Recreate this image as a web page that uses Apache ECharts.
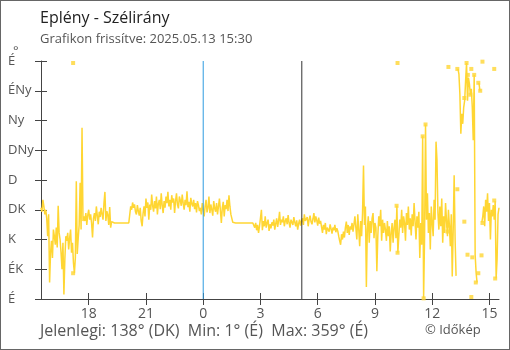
<!DOCTYPE html>
<html>
<head>
<meta charset="utf-8">
<script src="https://cdn.jsdelivr.net/npm/echarts@6/dist/echarts.min.js"></script>
<style>
html,body{margin:0;padding:0;background:#fff;}
#c{width:510px;height:350px;box-sizing:border-box;border:1px solid #666;}
</style>
</head>
<body>
<div id="c"></div>
<script>
// ---- data ----
const titleText = 'Eplény - Szélirány';
const subtitleText = 'Grafikon frissítve: 2025.05.13 15:30';
const creditText = '© Időkép';
const stepMinutes = 3;            // sample spacing, minutes from 15:30
const totalMinutes = 1440;        // 15:30 -> 15:30 next day
const xTickHours = [18, 21, 0, 3, 6, 9, 12, 15];
const xTickLabels = ['18', '21', '0', '3', '6', '9', '12', '15'];
const yTickLabels = ['É', 'ÉK', 'K', 'DK', 'D', 'DNy', 'Ny', 'ÉNy', 'É'];
const midnightMinute = 510;       // 00:00
const sunriseMinute = 820;        // ~05:10
const currentDir = 138, currentName = 'DK';
const minDir = 1, minName = 'É';
const maxDir = 359, maxName = 'É';

// wind direction (degrees), one value every 3 minutes
const windDir = [
138,132,150,140,128,135,
122,95,128,25,70,88,62,105,
95,82,108,78,141,100,90,
70,45,85,7,60,95,
88,100,75,92,105,70,85,
55,39,
62,178,68,92,112,176,105,259,118,
125,118,130,112,127,135,120,128,115,93,
122,130,118,140,126,113,132,124,138,128,
120,145,162,118,133,127,
112,139,108,117,114,
115,115,115,115,115,115,115,115,115,115,115,115,115,115,115,115,115,115,
140,135,146,138,143,132,
128,142,133,126,138,
118,110,130,
140,125,152,138,146,120,143,135,158,141,
132,148,137,155,128,144,150,136,160,142,130,
148,138,155,145,162,140,150,135,157,146,
152,130,148,160,143,137,155,149,141,158,
145,135,150,142,163,139,147,132,153,144,
140,150,136,145,131,148,
142,133,138,128,145,136,125,140,150,131,
138,155,130,143,135,126,148,137,132,145,
128,140,152,134,115,138,147,125,142,136,
150,133,157,140,128,
122,116,115,
115,115,115,115,115,115,115,115,115,117,115,115,115,115,115,115,115,115,115,115,
118,108,115,104,112,100,110,
112,135,104,118,110,125,108,115,120,103,113,107,116,111,120,105,
114,122,109,118,132,112,120,116,125,110,
118,122,113,127,115,108,120,117,112,124,
116,110,119,105,114,120,111,118,
122,112,128,118,115,124,110,120,126,117,
113,121,130,116,125,119,111,123,114,118,109,
100,112,105,115,98,108,110,102,113,106,
99,108,104,112,101,107,103,
95,88,82,98,90,102,93,
108,117,100,112,97,110,105,115,102,113,125,
122,90,128,105,80,118,95,130,202,112,
140,18,105,125,85,118,
100,122,130,92,115,108,42,
96,125,110,135,88,120,100,115,
105,88,118,95,110,72,100,115,85,108,120,92,
141,70,
95,120,108,135,100,125,115,88,130,112,
140,105,122,96,128,110,145,118,90,125,
108,132,62,115,
82,246,1,95,264,120,
160,100,130,75,140,115,
95,150,120,238,210,130,105,
140,110,152,85,125,100,145,118,95,135,
111,80,128,34,105,187,90,35,
null,
348,340,310,250,280,265,290,300,330,357,300,335,325,309,318,290,240,339,67,40,25,
null,
327,315,
null,
116,125,140,110,150,132,160,118,145,90,135,125,142,120,148,31,60,128,138
];

// isolated readings drawn as small squares (minute from 15:30, degrees)
const dotMinutes = [101,101,1118,1121,1121,1200,1203,1209,1278,1280,1281,1309,1309,1331,1331,1338,1341,1342,1350,1353,1353,1356,1362,1367,1375,1375,1381,1385,1388,1388,1425,1425,1428];
const dotDirs    = [357,39,141,357,70,246,1,264,102,111,351,166,348,304,117,357,67,339,309,348,3,63,339,25,327,39,315,66,359,115,348,149,31];

// ---- chart ----
const lineData = windDir.map((v, i) => [i * stepMinutes, v]);
const dotData = dotMinutes.map((m, i) => [m, dotDirs[i]]);
const xTickValues = xTickHours.map(h => ((h - 15.5 + 24) % 24) * 60);
const fmtX = v => { const k = xTickValues.indexOf(v); return k >= 0 ? xTickLabels[k] : ''; };
const fmtY = v => yTickLabels[Math.round(v / 45)] || '';

const FONT = '"Open Sans", sans-serif';
const AX = '#444';
const LBL = '#555';
const YEL = '#ffd633';

const chart = echarts.init(document.getElementById('c'), null, {renderer: 'canvas'});
const xBase = {
  type: 'value', min: 0, max: totalMinutes, gridIndex: 0, position: 'bottom',
  splitLine: {show: false}
};
const yBase = {
  type: 'value', min: 0, max: 360, interval: 45, gridIndex: 0, position: 'left',
  splitLine: {show: false}
};
function vLine(minute, color) {
  return {
    type: 'line', xAxisIndex: 0, yAxisIndex: 0,
    data: [[minute, 0], [minute, 360]],
    showSymbol: false, silent: true, z: 4,
    lineStyle: {color: color, width: 1}, itemStyle: {color: color}
  };
}
chart.setOption({
  animation: false,
  backgroundColor: '#fff',
  textStyle: {fontFamily: FONT},
  title: [
    {text: titleText, left: 39, top: 9, padding: 0,
     textStyle: {fontFamily: FONT, fontSize: 16, fontWeight: 'normal', color: '#222'}},
    {text: subtitleText, left: 39, top: 32, padding: 0,
     textStyle: {fontFamily: FONT, fontSize: 13, fontWeight: 'normal', color: '#555'}},
    {text: `Jelenlegi: ${currentDir}° (${currentName})  Min: ${minDir}° (${minName})  Max: ${maxDir}° (${maxName})`,
     left: 39, top: 322, padding: 0,
     textStyle: {fontFamily: FONT, fontSize: 16, fontWeight: 'normal', color: '#555'}},
    {text: creditText, left: 424, top: 323, padding: 0,
     textStyle: {fontFamily: FONT, fontSize: 13, fontWeight: 'normal', color: '#555'}}
  ],
  graphic: [
    {type: 'text', left: 12, top: 44, style: {text: '°', font: '13px ' + FONT, fill: LBL}}
  ],
  grid: {left: 40, right: 10, top: 60, bottom: 50},
  xAxis: [
    Object.assign({}, xBase, {
      axisLine: {show: true, lineStyle: {color: AX, width: 1}},
      axisTick: {show: true, inside: false, length: 6, customValues: xTickValues, lineStyle: {color: AX}},
      axisLabel: {show: true, customValues: xTickValues, formatter: fmtX, margin: 8,
                  fontFamily: FONT, fontSize: 14, color: LBL}
    }),
    Object.assign({}, xBase, {
      axisLine: {show: false},
      axisTick: {show: true, inside: true, length: 6, customValues: xTickValues, lineStyle: {color: AX}},
      axisLabel: {show: false}
    })
  ],
  yAxis: [
    Object.assign({}, yBase, {
      axisLine: {show: true, lineStyle: {color: AX, width: 1}},
      axisTick: {show: true, inside: false, length: 6, lineStyle: {color: AX}},
      axisLabel: {show: true, formatter: fmtY, align: 'left', margin: 33,
                  fontFamily: FONT, fontSize: 13, color: LBL}
    }),
    Object.assign({}, yBase, {
      axisLine: {show: false},
      axisTick: {show: true, inside: true, length: 6, lineStyle: {color: AX}},
      axisLabel: {show: false}
    })
  ],
  series: [
    {
      type: 'line', xAxisIndex: 0, yAxisIndex: 0, data: lineData,
      showSymbol: false, connectNulls: false, smooth: false,
      lineStyle: {color: YEL, width: 1.5}, itemStyle: {color: YEL},
      z: 2, silent: true
    },
    {
      type: 'scatter', xAxisIndex: 0, yAxisIndex: 0, data: dotData,
      symbol: 'rect', symbolSize: 4, itemStyle: {color: YEL}, z: 3, silent: true
    },
    vLine(midnightMinute, '#2e9be0'),
    vLine(sunriseMinute, '#333333')
  ]
});
</script>
</body>
</html>
